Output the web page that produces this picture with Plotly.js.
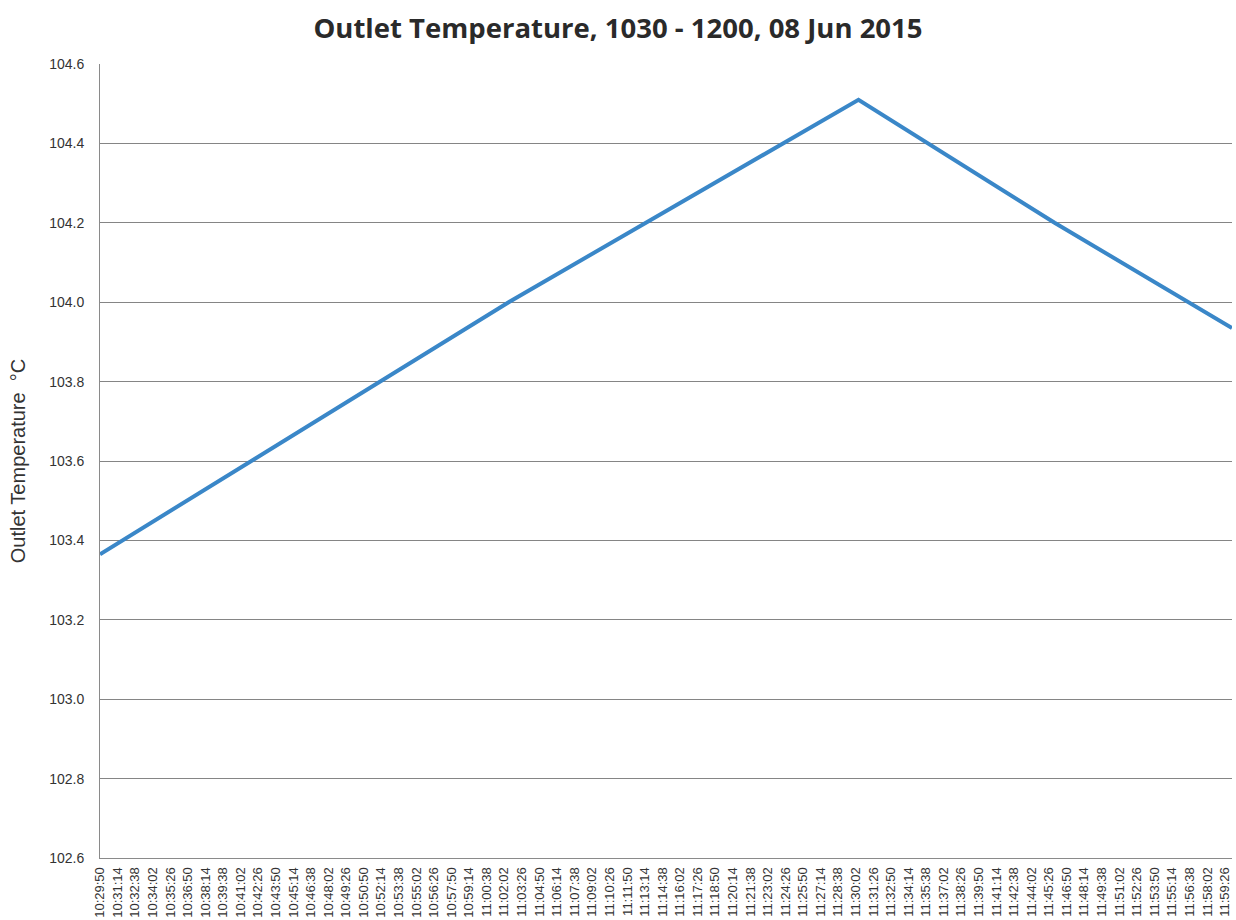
<!DOCTYPE html>
<html>
<head>
<meta charset="utf-8">
<script src="https://cdn.plot.ly/plotly-3.0.1.min.js"></script>
<style>html,body{margin:0;padding:0;background:#fff;}#chart{width:1236px;height:920px;}</style>
</head>
<body>
<div id="chart"></div>
<script>
// Readings (time of day, outlet temperature °C)
const times = ['10:29:50', '11:02:23', '11:30:15', '11:45:52', '12:00:00'];
const temps = [103.365, 104.00, 104.51, 104.20, 103.935];

// Category labels shown along the x axis
const tickLabels = [
'10:29:50','10:31:14','10:32:38','10:34:02','10:35:26','10:36:50','10:38:14','10:39:38','10:41:02','10:42:26',
'10:43:50','10:45:14','10:46:38','10:48:02','10:49:26','10:50:50','10:52:14','10:53:38','10:55:02','10:56:26',
'10:57:50','10:59:14','11:00:38','11:02:02','11:03:26','11:04:50','11:06:14','11:07:38','11:09:02','11:10:26',
'11:11:50','11:13:14','11:14:38','11:16:02','11:17:26','11:18:50','11:20:14','11:21:38','11:23:02','11:24:26',
'11:25:50','11:27:14','11:28:38','11:30:02','11:31:26','11:32:50','11:34:14','11:35:38','11:37:02','11:38:26',
'11:39:50','11:41:14','11:42:38','11:44:02','11:45:26','11:46:50','11:48:14','11:49:38','11:51:02','11:52:26',
'11:53:50','11:55:14','11:56:38','11:58:02','11:59:26'
];
const yTicks = [102.6, 102.8, 103.0, 103.2, 103.4, 103.6, 103.8, 104.0, 104.2, 104.4, 104.6];

const day = '2015-06-08 ';
const xs = times.map(t => day + t);
const tickVals = tickLabels.map(t => day + t);

const trace = {
  x: xs, y: temps, type: 'scatter', mode: 'lines',
  line: {color: '#3a87c8', width: 4},
  hoverinfo: 'x+y'
};

const layout = {
  width: 1236, height: 920,
  paper_bgcolor: '#fff', plot_bgcolor: '#fff',
  margin: {l: 100, r: 4, t: 64, b: 62},
  showlegend: false,
  title: {
    text: '<b>Outlet Temperature, 1030 - 1200, 08 Jun 2015</b>',
    font: {family: 'Open Sans, sans-serif', size: 27.5, color: '#2a2a2a'},
    x: 0.5, xanchor: 'center', y: 0.969, yanchor: 'middle'
  },
  xaxis: {
    type: 'date',
    range: [day + '10:29:50', day + '12:00:00'],
    tickmode: 'array', tickvals: tickVals, ticktext: tickLabels,
    tickangle: -90,
    tickfont: {family: 'Liberation Sans, Arial, sans-serif', size: 13, color: '#333'},
    showgrid: false, zeroline: false,
    showline: true, linecolor: '#8a8a8a', linewidth: 1,
    ticks: '', ticklabelstandoff: 3
  },
  yaxis: {
    range: [102.6, 104.6],
    tickmode: 'array', tickvals: yTicks, ticktext: yTicks.map(v => v.toFixed(1)),
    tickfont: {family: 'Liberation Sans, Arial, sans-serif', size: 14, color: '#333'},
    showgrid: true, gridcolor: '#858585', gridwidth: 1,
    zeroline: false,
    showline: true, linecolor: '#8a8a8a', linewidth: 1,
    ticks: '', ticklabelstandoff: 12,
    title: {text: 'Outlet Temperature  °C', font: {family: 'Liberation Sans, Arial, sans-serif', size: 20, color: '#333'}, standoff: 18}
  }
};

Plotly.newPlot('chart', [trace], layout, {displayModeBar: false, staticPlot: true});
</script>
</body>
</html>
